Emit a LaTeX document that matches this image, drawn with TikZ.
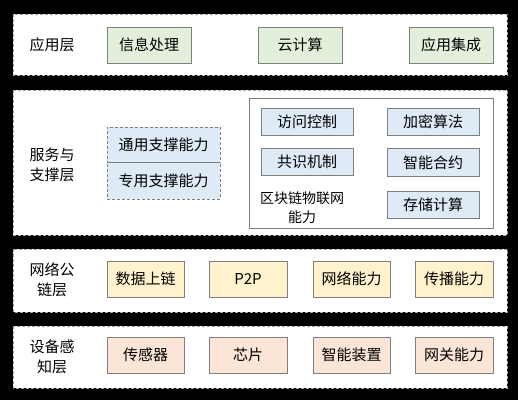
\documentclass[tikz,border=0pt]{standalone}
\usepackage{fontspec}
\usepackage{xcolor}
\usetikzlibrary{positioning,calc}
\newfontfamily\cjk{Noto Sans CJK SC}
\definecolor{appgreen}{HTML}{E2EFDA}
\definecolor{svcblue}{HTML}{DEEBF7}
\definecolor{netyellow}{HTML}{FFF2CC}
\definecolor{devpink}{HTML}{FBE5D6}
\definecolor{boxgray}{HTML}{7F7F7F}

\tikzset{
    layer/.style={fill=white, draw=gray!70, densely dashed, line width=0.8pt},
    item/.style={draw=boxgray, line width=0.8pt, minimum height=36pt, inner sep=0pt, font=\cjk\fontsize{15}{18}\selectfont},
    layername/.style={align=center, font=\cjk\fontsize{15}{20}\selectfont}
}

\begin{document}
\begin{tikzpicture}[x=1pt, y=-1pt]
        % Background
        \fill[black] (0,0) rectangle (518,400);
        \useasboundingbox (0,0) rectangle (518,400);

        % Application Layer
        \draw[layer] (13,14) rectangle (507,75);
        \node[layername] (app) at (52,45) {应用层};
        \node[item, fill=appgreen, minimum width=84pt] (info) at (149,45) {信息处理};
        \node[item, fill=appgreen, minimum width=84pt] (cloud) at (300,45) {云计算};
        \node[item, fill=appgreen, minimum width=84pt] (integ) at (451,45) {应用集成};

        % Service and Support Layer
        \draw[layer] (13,90) rectangle (507,235);
        \node[layername] (svc) at (52,165) {服务与\\支撑层};
        \node[item, fill=svcblue, draw=gray, densely dashed, minimum width=113pt, minimum height=35pt] (general) at (163.5,144.5) {通用支撑能力};
        \node[item, fill=svcblue, draw=gray, densely dashed, minimum width=113pt, minimum height=37pt] (special) at (163.5,180.5) {专用支撑能力};
        \draw[boxgray, line width=0.8pt] (general.south west) -- (general.south east);
        \node[draw=boxgray, line width=0.8pt, minimum width=244pt, minimum height=130pt, inner sep=0pt] (iotframe) at (371,163) {};
        \node[item, fill=svcblue, minimum width=92pt, minimum height=27pt] (access) at (307,121.5) {访问控制};
        \node[item, fill=svcblue, minimum width=92pt, minimum height=27pt] (crypto) at (433,121.5) {加密算法};
        \node[item, fill=svcblue, minimum width=92pt, minimum height=27pt] (consensus) at (307,161.5) {共识机制};
        \node[item, fill=svcblue, minimum width=92pt, minimum height=28pt] (contract) at (433,162.5) {智能合约};
        \node[item, fill=svcblue, minimum width=92pt, minimum height=27pt] (storage) at (433,204.5) {存储计算};
        \node[layername, font=\cjk\fontsize{14}{19}\selectfont] (iotcap) at (302,208) {区块链物联网\\能力};

        % Network Public Chain Layer
        \draw[layer] (13,249) rectangle (507,312);
        \node[layername] (net) at (52,280) {网络公\\链层};
        \node[item, fill=netyellow, minimum width=77pt] (upchain) at (145.5,279) {数据上链};
        \node[item, fill=netyellow, minimum width=78pt] (ptp) at (248,279) {P2P};
        \node[item, fill=netyellow, minimum width=77pt] (netcap) at (351.5,279) {网络能力};
        \node[item, fill=netyellow, minimum width=78pt] (spread) at (454,279) {传播能力};

        % Device Sensing Layer
        \draw[layer] (13,326) rectangle (507,388);
        \node[layername] (dev) at (52,357) {设备感\\知层};
        \node[item, fill=devpink, minimum width=77pt] (sensor) at (145.5,355) {传感器};
        \node[item, fill=devpink, minimum width=78pt] (chip) at (248,355) {芯片};
        \node[item, fill=devpink, minimum width=77pt] (smartdev) at (351.5,355) {智能装置};
        \node[item, fill=devpink, minimum width=78pt] (gateway) at (454,355) {网关能力};
    \end{tikzpicture}
\end{document}
